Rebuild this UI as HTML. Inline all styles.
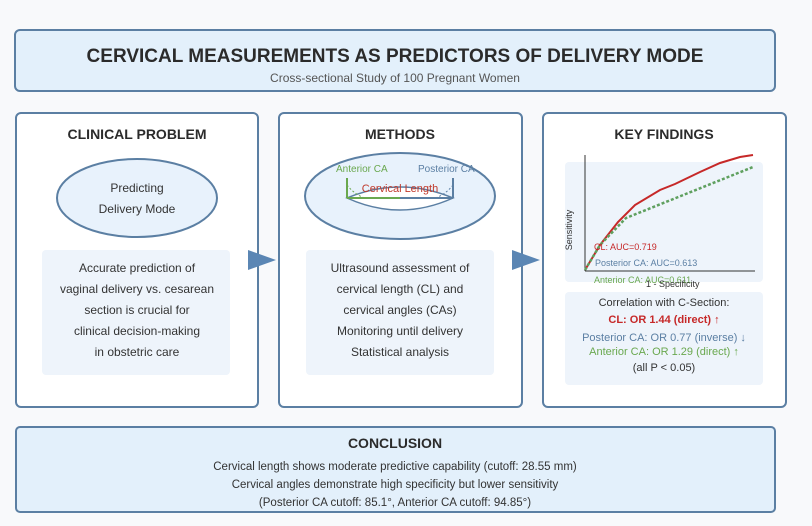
<!DOCTYPE html>
<html><head><meta charset="utf-8"><style>
html,body{margin:0;padding:0;background:#f8f9fb;}
svg{display:block;font-family:"Liberation Sans",Arial,sans-serif;}
</style></head><body>
<svg width="812" height="526" viewBox="0 0 812 526" xmlns="http://www.w3.org/2000/svg">
<rect width="812" height="526" fill="#f8f9fb"/>
<rect x="15" y="30" width="760" height="61" rx="5" fill="#e3f0fb" stroke="#5b7fa3" stroke-width="2"/>
<text x="395" y="62" text-anchor="middle" font-size="19" font-weight="bold" fill="#2b2b2b">CERVICAL MEASUREMENTS AS PREDICTORS OF DELIVERY MODE</text>
<text x="395" y="82" text-anchor="middle" font-size="12" fill="#555">Cross-sectional Study of 100 Pregnant Women</text>

<rect x="16" y="113" width="242" height="294" rx="5" fill="#fff" stroke="#5b7fa3" stroke-width="2"/>
<rect x="279" y="113" width="243" height="294" rx="5" fill="#fff" stroke="#5b7fa3" stroke-width="2"/>
<rect x="543" y="113" width="243" height="294" rx="5" fill="#fff" stroke="#5b7fa3" stroke-width="2"/>

<text x="137" y="139" text-anchor="middle" font-size="14" font-weight="bold" fill="#2b2b2b">CLINICAL PROBLEM</text>
<text x="400" y="139" text-anchor="middle" font-size="14" font-weight="bold" fill="#2b2b2b">METHODS</text>
<text x="664" y="139" text-anchor="middle" font-size="14" font-weight="bold" fill="#2b2b2b">KEY FINDINGS</text>

<ellipse cx="137" cy="198" rx="80" ry="39" fill="#e8f2fc" stroke="#5b7fa3" stroke-width="2"/>
<text x="137" y="192" text-anchor="middle" font-size="12" fill="#333">Predicting</text>
<text x="137" y="213" text-anchor="middle" font-size="12" fill="#333">Delivery Mode</text>

<rect x="42" y="250" width="188" height="125" rx="4" fill="#eef4fb"/>
<g font-size="12" fill="#333" text-anchor="middle">
<text x="137" y="272">Accurate prediction of</text>
<text x="137" y="293">vaginal delivery vs. cesarean</text>
<text x="137" y="314">section is crucial for</text>
<text x="137" y="335">clinical decision-making</text>
<text x="137" y="356">in obstetric care</text>
</g>

<polygon points="248,250 276,260 248,270" fill="#5b86b4"/>
<polygon points="512,250 540,260 512,270" fill="#5b86b4"/>

<ellipse cx="400" cy="196" rx="95" ry="43" fill="#e8f2fc" stroke="#5b7fa3" stroke-width="2"/>
<path d="M347,198 Q400,222 453,198 Q400,176 347,198Z" fill="#fff" stroke="#5b7fa3" stroke-width="1.5"/>
<line x1="347" y1="178" x2="347" y2="198" stroke="#6aa84f" stroke-width="2"/>
<line x1="453" y1="178" x2="453" y2="198" stroke="#5b7fa3" stroke-width="2"/>
<line x1="347" y1="198" x2="400" y2="198" stroke="#6aa84f" stroke-width="2"/>
<line x1="400" y1="198" x2="453" y2="198" stroke="#5b7fa3" stroke-width="2"/>
<path d="M347,185 Q355,195 365,198" fill="none" stroke="#6aa84f" stroke-dasharray="2,2"/>
<path d="M453,185 Q445,195 435,198" fill="none" stroke="#5b7fa3" stroke-dasharray="2,2"/>
<text x="336" y="172" font-size="10" fill="#6aa84f">Anterior CA</text>
<text x="418" y="172" font-size="10" fill="#5b7fa3">Posterior CA</text>
<text x="400" y="192" text-anchor="middle" font-size="11" fill="#c0392b">Cervical Length</text>

<rect x="306" y="250" width="188" height="125" rx="4" fill="#eef4fb"/>
<g font-size="12" fill="#333" text-anchor="middle">
<text x="400" y="272">Ultrasound assessment of</text>
<text x="400" y="293">cervical length (CL) and</text>
<text x="400" y="314">cervical angles (CAs)</text>
<text x="400" y="335">Monitoring until delivery</text>
<text x="400" y="356">Statistical analysis</text>
</g>

<rect x="565" y="162" width="198" height="120" rx="4" fill="#eef4fb"/>
<line x1="585" y1="155" x2="585" y2="271" stroke="#333" stroke-width="1"/>
<line x1="585" y1="271" x2="755" y2="271" stroke="#333" stroke-width="1"/>
<path d="M585,270 L600,245 L618,222 L635,205 L660,190 L675,184 L700,172 L720,163 L740,157 L753,155" fill="none" stroke="#c62828" stroke-width="2"/>
<path d="M585,270 L600,245 L626,218 L753,167" fill="none" stroke="#5fa05f" stroke-width="2.5" stroke-dasharray="3,2"/>
<text x="572" y="230" font-size="9" fill="#333" transform="rotate(-90 572 230)" text-anchor="middle">Sensitivity</text>
<text x="594" y="250" font-size="9" fill="#c62828">CL: AUC=0.719</text>
<text x="595" y="266" font-size="9" fill="#5b7fa3">Posterior CA: AUC=0.613</text>
<text x="594" y="283" font-size="9" fill="#6aa84f">Anterior CA: AUC=0.611</text>
<text x="646" y="287" font-size="9" fill="#333">1 - Specificity</text>

<rect x="565" y="292" width="198" height="93" rx="4" fill="#eef4fb"/>
<g font-size="11" text-anchor="middle">
<text x="664" y="306" fill="#333">Correlation with C-Section:</text>
<text x="664" y="323" fill="#c62828" font-weight="bold">CL: OR 1.44 (direct) ↑</text>
<text x="664" y="341" fill="#5b7fa3">Posterior CA: OR 0.77 (inverse) ↓</text>
<text x="664" y="355" fill="#6aa84f">Anterior CA: OR 1.29 (direct) ↑</text>
<text x="664" y="371" fill="#333">(all P &lt; 0.05)</text>
</g>

<rect x="16" y="427" width="759" height="85" rx="4" fill="#e3f0fb" stroke="#5b7fa3" stroke-width="2"/>
<text x="395" y="448" text-anchor="middle" font-size="14" font-weight="bold" fill="#2b2b2b">CONCLUSION</text>
<g font-size="11.5" fill="#333" text-anchor="middle">
<text x="395" y="470">Cervical length shows moderate predictive capability (cutoff: 28.55 mm)</text>
<text x="395" y="488">Cervical angles demonstrate high specificity but lower sensitivity</text>
<text x="395" y="506">(Posterior CA cutoff: 85.1°, Anterior CA cutoff: 94.85°)</text>
</g>
</svg>
</body></html>
